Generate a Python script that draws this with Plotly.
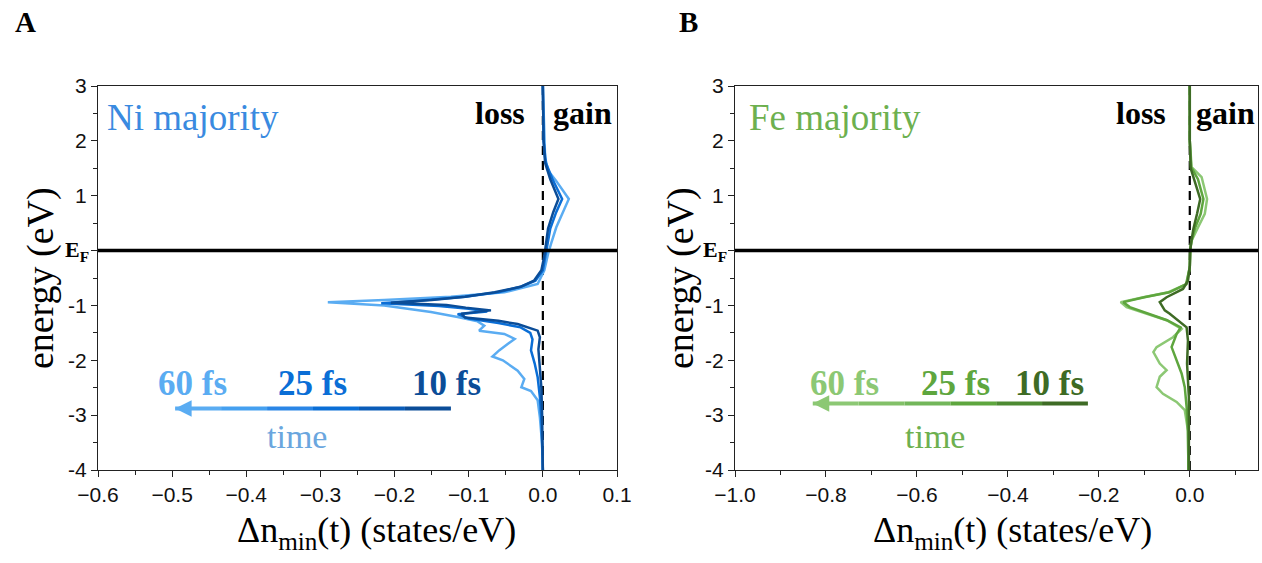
import plotly.graph_objects as go

# ---------------- data ----------------
# Ni majority
ni_60_E = [3.0, 2.5, 2.0, 1.7, 1.46, 1.27, 0.94, 0.70, 0.42, 0.12, -0.06, -0.36, -0.61, -0.76, -0.84, -0.90, -0.94, -1.00, -1.12, -1.21, -1.29, -1.37, -1.46, -1.52, -1.61, -1.70, -1.82, -1.93, -2.00, -2.19, -2.34, -2.49, -2.56, -2.73, -3.04, -3.52, -4.0]
ni_60_dn = [0.000, 0.001, 0.002, 0.003, 0.007, 0.018, 0.035, 0.027, 0.018, 0.011, 0.007, 0.002, -0.007, -0.052, -0.124, -0.214, -0.290, -0.214, -0.151, -0.115, -0.088, -0.079, -0.086, -0.052, -0.038, -0.047, -0.059, -0.068, -0.054, -0.034, -0.025, -0.029, -0.016, -0.007, -0.004, -0.001, 0.000]

ni_25_E = [3.0, 2.0, 1.6, 1.3, 0.94, 0.7, 0.4, 0.1, -0.1, -0.36, -0.55, -0.66, -0.76, -0.84, -0.91, -0.96, -1.01, -1.06, -1.11, -1.16, -1.24, -1.32, -1.40, -1.50, -1.62, -1.82, -2.06, -2.31, -2.67, -3.1, -4.0]
ni_25_dn = [0.000, 0.001, 0.004, 0.013, 0.026, 0.018, 0.010, 0.006, 0.003, 0.000, -0.010, -0.030, -0.060, -0.105, -0.165, -0.218, -0.140, -0.100, -0.075, -0.115, -0.100, -0.060, -0.030, -0.017, -0.014, -0.016, -0.011, -0.007, -0.004, -0.002, 0.000]

ni_10_E = [3.0, 2.0, 1.6, 1.3, 0.94, 0.7, 0.4, 0.1, -0.1, -0.36, -0.55, -0.66, -0.76, -0.84, -0.90, -0.95, -0.99, -1.04, -1.09, -1.15, -1.22, -1.28, -1.34, -1.46, -1.58, -1.8, -2.1, -2.5, -3.0, -4.0]
ni_10_dn = [0.000, 0.001, 0.003, 0.010, 0.021, 0.014, 0.007, 0.004, 0.002, -0.002, -0.012, -0.030, -0.065, -0.105, -0.150, -0.205, -0.130, -0.104, -0.070, -0.110, -0.105, -0.060, -0.034, -0.007, -0.004, -0.006, -0.004, -0.002, -0.001, 0.000]

# Fe majority
fe_60_E = [3.0, 2.0, 1.52, 1.34, 0.94, 0.67, 0.42, 0.18, 0.03, -0.30, -0.61, -0.76, -0.85, -0.94, -1.03, -1.15, -1.27, -1.43, -1.58, -1.76, -1.85, -2.06, -2.18, -2.30, -2.49, -2.61, -2.76, -2.91, -3.28, -4.0]
fe_60_dn = [0.000, 0.000, 0.004, 0.026, 0.038, 0.033, 0.018, 0.004, 0.001, 0.000, -0.007, -0.047, -0.102, -0.152, -0.139, -0.095, -0.051, -0.018, -0.037, -0.073, -0.080, -0.066, -0.051, -0.066, -0.073, -0.059, -0.029, -0.011, -0.004, -0.003]

fe_25_E = [3.0, 2.0, 1.52, 1.3, 0.94, 0.67, 0.42, 0.18, 0.03, -0.30, -0.61, -0.76, -0.85, -0.94, -1.03, -1.15, -1.27, -1.40, -1.52, -1.76, -2.0, -2.24, -2.49, -2.85, -3.3, -4.0]
fe_25_dn = [0.000, 0.000, 0.003, 0.018, 0.030, 0.024, 0.012, 0.004, 0.001, 0.000, -0.008, -0.045, -0.100, -0.146, -0.132, -0.090, -0.050, -0.020, -0.029, -0.040, -0.029, -0.018, -0.011, -0.007, -0.004, -0.003]

fe_10_E = [3.0, 2.0, 1.5, 1.3, 0.94, 0.67, 0.4, 0.15, 0.0, -0.30, -0.55, -0.70, -0.85, -0.94, -1.09, -1.15, -1.40, -1.64, -2.06, -2.67, -3.3, -4.0]
fe_10_dn = [0.000, 0.000, 0.002, 0.010, 0.023, 0.016, 0.008, 0.003, 0.001, 0.000, -0.004, -0.015, -0.051, -0.066, -0.055, -0.044, -0.007, -0.004, -0.006, -0.002, -0.002, -0.002]

times = ["60 fs", "25 fs", "10 fs"]
y_ticks = [3, 2, 1, 0, -1, -2, -3, -4]
y_ticklabels = ["3", "2", "1", "", "-1", "-2", "-3", "-4"]

# ---------------- styles ----------------
ni_cols = {"60 fs": "#5aacf2", "25 fs": "#0a6ed6", "10 fs": "#0b4d98"}
fe_cols = {"60 fs": "#8cc874", "25 fs": "#5ea63e", "10 fs": "#3e6b25"}
SERIF = "Liberation Serif"
SANS = "Liberation Sans"
W, H = 1262, 563

fig = go.Figure()

def add_panel(xa, ya, series, cols, xr):
    # dashed zero line
    fig.add_trace(go.Scatter(x=[0, 0], y=[-4, 3], mode="lines", xaxis=xa, yaxis=ya,
                             line=dict(color="black", width=2.2, dash="9px,6px"),
                             showlegend=False, hoverinfo="skip"))
    for name, E, dn in series:
        fig.add_trace(go.Scatter(x=dn, y=E, mode="lines", name=name, xaxis=xa, yaxis=ya,
                                 line=dict(color=cols[name], width=2.5),
                                 showlegend=False))
    # Fermi level line
    fig.add_trace(go.Scatter(x=[xr[0], xr[1]], y=[0, 0], mode="lines", xaxis=xa, yaxis=ya,
                             line=dict(color="black", width=3.5),
                             showlegend=False, hoverinfo="skip"))

add_panel("x", "y", [("60 fs", ni_60_E, ni_60_dn), ("25 fs", ni_25_E, ni_25_dn),
                     ("10 fs", ni_10_E, ni_10_dn)], ni_cols, (-0.6, 0.1))
add_panel("x2", "y2", [("60 fs", fe_60_E, fe_60_dn), ("25 fs", fe_25_E, fe_25_dn),
                       ("10 fs", fe_10_E, fe_10_dn)], fe_cols, (-1.0, 0.15))

ydom = [93 / H, 1 - 86 / H]
axis_common = dict(showgrid=False, zeroline=False, showline=True, linecolor="#222",
                   linewidth=1.2, mirror=True, ticks="outside", ticklen=6, tickcolor="#222",
                   automargin=False,
                   tickfont=dict(family=SANS, size=21, color="#111"))

fig.update_layout(
    template="none",
    width=W, height=H, margin=dict(l=0, r=0, t=0, b=0, pad=0, autoexpand=False),
    paper_bgcolor="white", plot_bgcolor="white", showlegend=False,
    xaxis=dict(domain=[98 / W, 617 / W], range=[-0.6, 0.1], dtick=0.1, tickformat=".1f",
               minor=dict(ticks="outside", ticklen=4, dtick=0.05, tickcolor="#222"),
               anchor="y", **axis_common),
    yaxis=dict(domain=ydom, range=[-4, 3], tickvals=y_ticks, ticktext=y_ticklabels,
               minor=dict(ticks="outside", ticklen=4, dtick=0.5, tickcolor="#222"),
               anchor="x", **axis_common),
    xaxis2=dict(domain=[735 / W, 1258 / W], range=[-1.0, 0.15], dtick=0.2, tickformat=".1f",
                minor=dict(ticks="outside", ticklen=4, dtick=0.1, tickcolor="#222"),
                anchor="y2", **axis_common),
    yaxis2=dict(domain=ydom, range=[-4, 3], tickvals=y_ticks, ticktext=y_ticklabels,
                minor=dict(ticks="outside", ticklen=4, dtick=0.5, tickcolor="#222"),
                anchor="x2", **axis_common),
)

ann = []
def txt(text, x, y, xref, yref, size, color="black", family=SERIF, xanchor="center",
        yanchor="middle", angle=0):
    ann.append(dict(text=text, x=x, y=y, xref=xref, yref=yref, showarrow=False,
                    font=dict(family=family, size=size, color=color),
                    xanchor=xanchor, yanchor=yanchor, textangle=angle))

# panel letters
txt("<b>A</b>", 25 / W, 1 - 22 / H, "paper", "paper", 29)
txt("<b>B</b>", 688 / W, 1 - 22 / H, "paper", "paper", 29)
# axis titles
for ycx in [40 / W, 680 / W]:
    txt("energy (eV)", ycx, 0.506, "paper", "paper", 38, angle=-90)
txt("Δn<sub>min</sub>(t) (states/eV)", 376 / W, 1 - 532 / H, "paper", "paper", 36)
txt("Δn<sub>min</sub>(t) (states/eV)", 1012 / W, 1 - 532 / H, "paper", "paper", 36)
# E_F labels
txt("<b>E<sub>F</sub></b>", 91 / W, 0, "paper", "y", 22, xanchor="right")
txt("<b>E<sub>F</sub></b>", 729 / W, 0, "paper", "y2", 22, xanchor="right")

# Ni panel text
txt("Ni majority", -0.590, 2.42, "x", "y", 37, color="#3a8ae0", xanchor="left")
txt("<b>loss</b>", -0.058, 2.50, "x", "y", 32)
txt("<b>gain</b>", 0.053, 2.50, "x", "y", 32)
for t, xx in zip(times, [-0.473, -0.311, -0.130]):
    txt("<b>%s</b>" % t, xx, -2.42, "x", "y", 35, color=ni_cols[t])
txt("time", -0.331, -3.39, "x", "y", 34, color="#6aa6de")

# Fe panel text
txt("Fe majority", -0.973, 2.42, "x2", "y2", 37, color="#6db04f", xanchor="left")
txt("<b>loss</b>", -0.108, 2.50, "x2", "y2", 32)
txt("<b>gain</b>", 0.079, 2.50, "x2", "y2", 32)
for t, xx in zip(times, [-0.759, -0.515, -0.308]):
    txt("<b>%s</b>" % t, xx, -2.42, "x2", "y2", 35, color=fe_cols[t])
txt("time", -0.560, -3.39, "x2", "y2", 34, color="#6db04f")

# time arrows (gradient drawn as segments + arrow head)
def arrow(xa, ya, x0, x1, y, cols):
    n = len(cols)
    for i, c in enumerate(cols):
        a = x0 + (x1 - x0) * i / n
        b = x0 + (x1 - x0) * (i + 1) / n
        fig.add_shape(type="line", xref=xa, yref=ya, x0=a, x1=b, y0=y, y1=y,
                      line=dict(color=c, width=4))
    ann.append(dict(x=x1, y=y, ax=x1 + (x0 - x1) * 0.06, ay=y, xref=xa, yref=ya,
                    axref=xa, ayref=ya, showarrow=True, arrowhead=2, arrowsize=1.1,
                    arrowwidth=3, arrowcolor=cols[-1], text=""))

arrow("x", "y", -0.124, -0.496, -2.88,
      ["#0b4d98", "#0a5cb8", "#0a6ed6", "#2a86e6", "#45a0f0", "#5aacf2"])
arrow("x2", "y2", -0.224, -0.829, -2.79,
      ["#3e6b25", "#4d8a32", "#5ea63e", "#72b65a", "#82c068", "#8cc874"])

fig.update_layout(annotations=ann)
fig.write_html("out.html", config={"displayModeBar": False},
               post_script="document.body.style.margin='0';")
